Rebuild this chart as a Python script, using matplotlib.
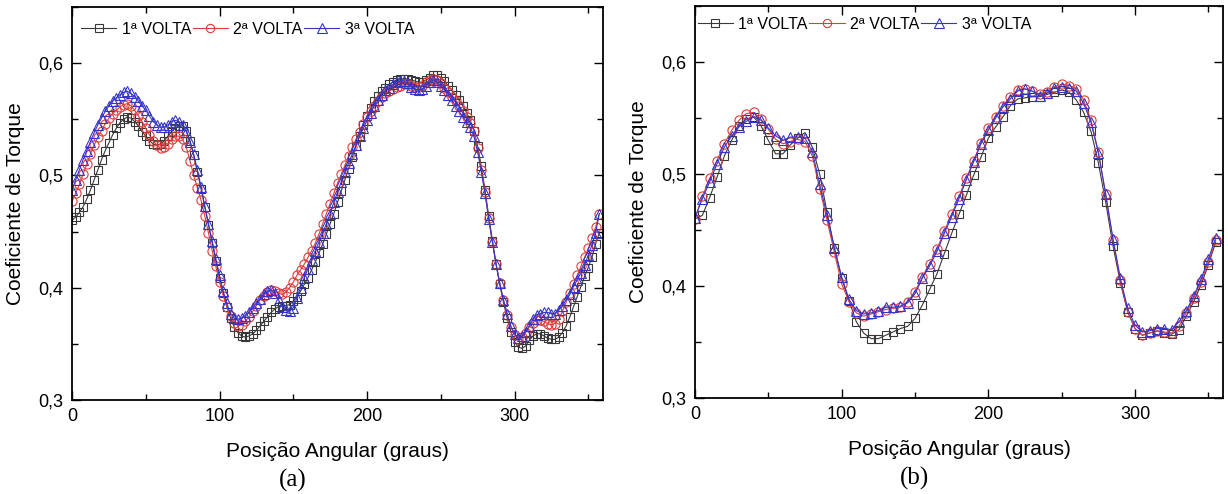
import numpy as np
import matplotlib
matplotlib.use("Agg")
import matplotlib.pyplot as plt
from matplotlib.ticker import MultipleLocator, FuncFormatter

plt.rcParams['font.family'] = ['Liberation Sans', 'DejaVu Sans']

# ---- data (a): one point every 2.5 degrees ----
ang_a = np.arange(0, 360, 2.5)

volta1_a = [
    .460, .463, .467, .472, .479, .487, .496, .505,
    .514, .522, .529, .536, .542, .547, .550, .552,
    .551, .548, .544, .539, .535, .531, .528, .527,
    .528, .531, .535, .539, .542, .544, .544, .540,
    .531, .518, .503, .488, .472, .456, .440, .424,
    .409, .395, .383, .373, .365, .360, .357, .356,
    .357, .359, .362, .366, .370, .374, .378, .381,
    .383, .384, .384, .385, .388, .392, .397, .403,
    .409, .416, .423, .431, .439, .448, .457, .466,
    .476, .486, .496, .506, .516, .526, .535, .545,
    .553, .560, .566, .571, .575, .578, .581, .583,
    .585, .586, .586, .586, .585, .584, .583, .583,
    .585, .587, .589, .589, .587, .584, .580, .576,
    .572, .567, .562, .556, .549, .540, .526, .508,
    .487, .464, .442, .421, .403, .387, .373, .361,
    .352, .347, .346, .348, .353, .357, .359, .359,
    .357, .355, .354, .354, .356, .360, .366, .374,
    .383, .392, .401, .410, .418, .427, .439, .449]

volta2_a = [
    .477, .484, .492, .501, .510, .519, .527, .534,
    .540, .546, .551, .555, .558, .561, .563, .564,
    .562, .558, .553, .548, .542, .536, .531, .527,
    .524, .525, .528, .532, .535, .535, .532, .525,
    .513, .500, .489, .478, .464, .449, .433, .419,
    .405, .393, .383, .375, .369, .366, .367, .370,
    .374, .379, .384, .389, .393, .396, .398, .397,
    .395, .394, .396, .400, .405, .411, .416, .421,
    .427, .433, .440, .448, .457, .466, .475, .484,
    .493, .501, .509, .517, .525, .532, .539, .546,
    .552, .557, .562, .566, .570, .573, .575, .577,
    .579, .580, .581, .581, .580, .579, .579, .580,
    .583, .585, .586, .585, .582, .578, .574, .570,
    .566, .562, .557, .552, .547, .540, .524, .505,
    .485, .462, .441, .421, .404, .389, .376, .365,
    .358, .354, .356, .360, .365, .369, .371, .371,
    .370, .368, .367, .368, .372, .379, .387, .395,
    .403, .411, .419, .427, .435, .444, .454, .466]

volta3_a = [
    .487, .496, .505, .514, .522, .530, .538, .545,
    .551, .557, .562, .566, .569, .572, .574, .575,
    .573, .570, .566, .562, .558, .553, .548, .545,
    .543, .543, .545, .548, .549, .548, .545, .539,
    .530, .519, .505, .490, .473, .457, .442, .426,
    .411, .397, .386, .377, .373, .372, .373, .375,
    .378, .382, .386, .390, .394, .397, .398, .395,
    .389, .383, .380, .379, .382, .391, .400, .409,
    .417, .425, .433, .441, .449, .457, .466, .476,
    .485, .494, .503, .511, .519, .527, .535, .542,
    .549, .556, .562, .567, .572, .576, .578, .581,
    .583, .584, .584, .582, .579, .577, .576, .577,
    .580, .583, .585, .583, .580, .576, .572, .567,
    .562, .557, .552, .548, .543, .535, .521, .503,
    .484, .461, .441, .421, .404, .389, .377, .366,
    .359, .355, .357, .361, .366, .372, .376, .377,
    .378, .378, .377, .377, .380, .384, .389, .394,
    .401, .407, .413, .420, .429, .438, .449, .466]

# ---- data (b): one point every 5 degrees ----
ang_b = np.arange(0, 360, 5)

volta1_b = [
    .460, .463, .479, .497, .516, .530, .543, .549,
    .551, .543, .530, .518, .518, .526, .532, .537,
    .524, .500, .466, .434, .407, .387, .368, .358,
    .353, .353, .356, .359, .362, .364, .371, .383,
    .397, .411, .429, .447, .464, .481, .499, .515,
    .532, .542, .551, .561, .567, .568, .569, .569,
    .571, .573, .575, .573, .566, .555, .538, .510,
    .475, .436, .403, .377, .362, .356, .358, .360,
    .358, .357, .361, .373, .386, .401, .419, .439]

volta2_b = [
    .460, .480, .496, .512, .527, .539, .548, .554,
    .555, .549, .540, .531, .527, .529, .531, .529,
    .516, .487, .459, .430, .402, .386, .376, .373,
    .375, .377, .379, .380, .381, .386, .395, .408,
    .420, .433, .449, .464, .480, .496, .512, .528,
    .541, .551, .561, .569, .575, .576, .574, .571,
    .573, .578, .580, .579, .576, .566, .548, .520,
    .482, .441, .405, .377, .362, .356, .358, .360,
    .359, .358, .364, .376, .389, .404, .421, .441]

volta3_b = [
    .461, .478, .493, .509, .524, .534, .542, .547,
    .551, .548, .541, .534, .530, .533, .533, .532,
    .520, .491, .463, .434, .408, .388, .378, .375,
    .376, .378, .381, .381, .382, .385, .393, .407,
    .418, .431, .447, .462, .478, .495, .511, .527,
    .539, .550, .560, .567, .574, .576, .574, .570,
    .572, .577, .578, .577, .574, .563, .546, .519,
    .482, .442, .407, .380, .365, .359, .360, .362,
    .362, .361, .368, .378, .391, .406, .424, .443]

labels = ['1ª VOLTA', '2ª VOLTA', '3ª VOLTA']
colors = ['#383838', '#e03a3a', '#3535cc']
markers = ['s', 'o', '^']
msizes = [6.2, 6.6, 7.4]

fig = plt.figure(figsize=(12.28, 4.94), dpi=100)
ax_a = fig.add_axes([72 / 1228, 94 / 494, 531 / 1228, 393 / 494])
ax_b = fig.add_axes([695 / 1228, 96 / 494, 528 / 1228, 392 / 494])

comma = FuncFormatter(lambda v, p: f"{v:.1f}".replace('.', ','))

panels = [
    (ax_a, ang_a, [volta1_a, volta2_a, volta3_a], (0.008, 0.975), '(a)'),
    (ax_b, ang_b, [volta1_b, volta2_b, volta3_b], (-0.004, 0.985), '(b)'),
]

for ax, ang, series, lpos, tag in panels:
    for y, lab, c, m, ms in zip(series, labels, colors, markers, msizes):
        ax.plot(ang, y, color=c, lw=0.8, marker=m, ms=ms, mfc='none',
                mec=c, mew=0.8, label=lab)
    ax.set_xlim(0, 360)
    ax.set_ylim(0.3, 0.65)
    ax.xaxis.set_major_locator(MultipleLocator(100))
    ax.xaxis.set_minor_locator(MultipleLocator(50))
    ax.yaxis.set_major_locator(MultipleLocator(0.1))
    ax.yaxis.set_minor_locator(MultipleLocator(0.05))
    ax.yaxis.set_major_formatter(comma)
    ax.tick_params(which='both', direction='in', top=True, right=True,
                   labelsize=13, width=1.0)
    ax.tick_params(which='major', length=6.5, pad=6)
    ax.tick_params(which='minor', length=4)
    for s in ax.spines.values():
        s.set_linewidth(1.3)
    ax.set_xlabel('Posição Angular (graus)', fontsize=15, labelpad=12)
    ax.set_ylabel('Coeficiente de Torque', fontsize=15, labelpad=10)
    ax.legend(loc='upper left', bbox_to_anchor=lpos, ncol=3, frameon=False,
              fontsize=11.5, handlelength=2.2, handletextpad=0.35,
              columnspacing=0.1, borderaxespad=0, borderpad=0.3,
              markerscale=0.9)
    ax.text(0.415, -0.205, tag, transform=ax.transAxes, ha='center',
            va='center', fontsize=18, family='Liberation Serif')

fig.savefig('out.png', dpi=100)
